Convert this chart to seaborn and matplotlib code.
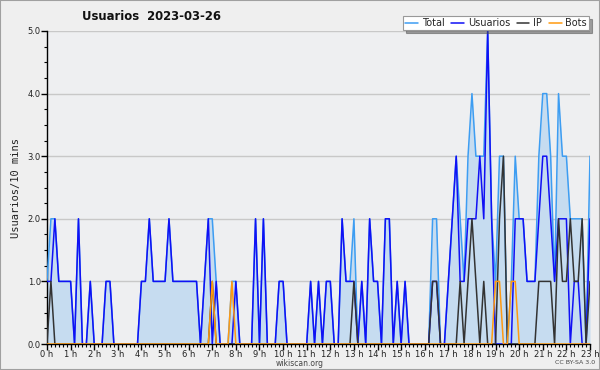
import numpy as np
import pandas as pd
import matplotlib
matplotlib.use("Agg")
import matplotlib.pyplot as plt
import seaborn as sns
from matplotlib.ticker import MultipleLocator, FixedLocator, FixedFormatter
from matplotlib.patches import Rectangle
from matplotlib.lines import Line2D

title = "Usuarios  2023-03-26"
ylabel = "Usuarios/10 mins"
hour_labels = [f"{h} h" for h in range(24)]
series_names = ["Total", "Usuarios", "IP", "Bots"]

# values per 10-minute slot, one row per hour (last row = 23:00)
total = [
    1, 2, 2, 1, 1, 1,
    1, 0, 2, 0, 0, 1,
    0, 0, 0, 1, 1, 0,
    0, 0, 0, 0, 0, 0,
    1, 1, 2, 1, 1, 1,
    1, 2, 1, 1, 1, 1,
    1, 1, 1, 0, 1, 2,
    2, 1, 0, 0, 0, 1,
    1, 0, 0, 0, 0, 2,
    0, 2, 0, 0, 0, 1,
    1, 0, 0, 0, 0, 0,
    0, 1, 0, 1, 0, 1,
    1, 0, 0, 2, 1, 1,
    2, 0, 1, 0, 2, 1,
    1, 0, 2, 2, 0, 1,
    0, 1, 0, 0, 0, 0,
    0, 0, 2, 2, 0, 0,
    1, 2, 3, 2, 1, 3,
    4, 3, 3, 3, 5, 2,
    1, 3, 3, 0, 1, 3,
    2, 2, 1, 1, 1, 3,
    4, 4, 3, 1, 4, 3,
    3, 2, 2, 2, 2, 0,
    3,
]
usuarios = [
    1, 1, 2, 1, 1, 1,
    1, 0, 2, 0, 0, 1,
    0, 0, 0, 1, 1, 0,
    0, 0, 0, 0, 0, 0,
    1, 1, 2, 1, 1, 1,
    1, 2, 1, 1, 1, 1,
    1, 1, 1, 0, 1, 2,
    0, 1, 0, 0, 0, 0,
    1, 0, 0, 0, 0, 2,
    0, 2, 0, 0, 0, 1,
    1, 0, 0, 0, 0, 0,
    0, 1, 0, 1, 0, 1,
    1, 0, 0, 2, 1, 1,
    1, 0, 1, 0, 2, 1,
    1, 0, 2, 2, 0, 1,
    0, 1, 0, 0, 0, 0,
    0, 0, 1, 1, 0, 0,
    1, 2, 3, 1, 1, 2,
    2, 2, 3, 2, 5, 2,
    0, 0, 0, 0, 0, 2,
    2, 2, 1, 1, 1, 2,
    3, 3, 2, 1, 2, 2,
    2, 0, 1, 1, 0, 0,
    2,
]
ip = [
    0, 1, 0, 0, 0, 0,
    0, 0, 0, 0, 0, 0,
    0, 0, 0, 0, 0, 0,
    0, 0, 0, 0, 0, 0,
    0, 0, 0, 0, 0, 0,
    0, 0, 0, 0, 0, 0,
    0, 0, 0, 0, 0, 0,
    1, 0, 0, 0, 0, 0,
    0, 0, 0, 0, 0, 0,
    0, 0, 0, 0, 0, 0,
    0, 0, 0, 0, 0, 0,
    0, 0, 0, 0, 0, 0,
    0, 0, 0, 0, 0, 0,
    1, 0, 0, 0, 0, 0,
    0, 0, 0, 0, 0, 0,
    0, 0, 0, 0, 0, 0,
    0, 0, 1, 1, 0, 0,
    0, 0, 0, 1, 0, 1,
    2, 1, 0, 1, 0, 0,
    0, 2, 3, 0, 0, 0,
    0, 0, 0, 0, 0, 1,
    1, 1, 1, 0, 2, 1,
    1, 2, 1, 1, 2, 0,
    1,
]
bots = [
    0, 0, 0, 0, 0, 0,
    0, 0, 0, 0, 0, 0,
    0, 0, 0, 0, 0, 0,
    0, 0, 0, 0, 0, 0,
    0, 0, 0, 0, 0, 0,
    0, 0, 0, 0, 0, 0,
    0, 0, 0, 0, 0, 0,
    1, 0, 0, 0, 0, 1,
    0, 0, 0, 0, 0, 0,
    0, 0, 0, 0, 0, 0,
    0, 0, 0, 0, 0, 0,
    0, 0, 0, 0, 0, 0,
    0, 0, 0, 0, 0, 0,
    0, 0, 0, 0, 0, 0,
    0, 0, 0, 0, 0, 0,
    0, 0, 0, 0, 0, 0,
    0, 0, 0, 0, 0, 0,
    0, 0, 0, 0, 0, 0,
    0, 0, 0, 0, 0, 0,
    1, 1, 0, 0, 1, 1,
    0, 0, 0, 0, 0, 0,
    0, 0, 0, 0, 0, 0,
    0, 0, 0, 0, 0, 0,
    0,
]

colors = {"Total": "#3d9df2", "Usuarios": "#1010f5", "IP": "#333333", "Bots": "#ff9a10"}
fill_color = "#c6dcf0"

n = len(total)
df = pd.DataFrame({
    "hora": np.arange(n) / 6.0,
    "Total": total,
    "Usuarios": usuarios,
    "IP": ip,
    "Bots": bots,
})

sns.set_theme(style="white")
plt.rcParams["font.family"] = ["DejaVu Sans"]

W, H = 600, 370
fig = plt.figure(figsize=(6, 3.7), dpi=100, facecolor="#efefef")
ax = fig.add_axes([47 / W, 26 / H, 543 / W, 313 / H])
ax.set_facecolor("#eeeff1")

ax.fill_between(df["hora"], df["Total"], 0, color=fill_color, lw=0, zorder=1)
for name in series_names:
    sns.lineplot(data=df, x="hora", y=name, ax=ax, color=colors[name],
                 lw=1.1, zorder=3, legend=False)

ax.set_xlim(0, 23)
ax.set_ylim(0, 5)

ax.xaxis.set_major_locator(FixedLocator(range(24)))
ax.xaxis.set_major_formatter(FixedFormatter(hour_labels))
ax.xaxis.set_minor_locator(MultipleLocator(1 / 6))
ax.yaxis.set_major_locator(MultipleLocator(1))
ax.yaxis.set_minor_locator(MultipleLocator(0.25))
ax.yaxis.set_major_formatter(matplotlib.ticker.FormatStrFormatter("%.1f"))

ax.tick_params(axis="both", which="major", direction="out", length=4, width=1,
               color="black", labelsize=6, labelcolor="#222222", pad=0.5)
ax.tick_params(axis="both", which="minor", direction="out", length=2, width=0.8,
               color="black")
ax.tick_params(axis="x", which="both", bottom=True)
ax.tick_params(axis="y", which="both", left=True)

ax.yaxis.grid(True, which="major", color="#c8c8c8", lw=1)
ax.set_axisbelow(True)
for s in ["top", "right"]:
    ax.spines[s].set_visible(False)
for s in ["left", "bottom"]:
    ax.spines[s].set_color("black")
    ax.spines[s].set_linewidth(1)

ax.set_xlabel("")
ax.set_ylabel(ylabel, family="DejaVu Sans Mono", fontsize=7.5, labelpad=5, color="#222222")

fig.text(151 / W, 1 - 17 / H, title, ha="center", va="center",
         fontsize=8.4, fontweight="bold", color="#111111")

handles = [Line2D([0], [0], color=colors[nm], lw=1.1) for nm in series_names]
leg = fig.legend(handles, series_names, loc="upper right", ncol=4,
                 bbox_to_anchor=(589 / W, 1 - 16 / H), bbox_transform=fig.transFigure,
                 frameon=True, fancybox=False, shadow=True, fontsize=7,
                 handlelength=1.3, handletextpad=0.4, columnspacing=0.7,
                 borderpad=0.2, borderaxespad=0)
leg.get_frame().set_edgecolor("#999999")
leg.get_frame().set_linewidth(0.8)

fig.text(300 / W, 1 - 363 / H, "wikiscan.org", ha="center", va="center",
         fontsize=5.5, color="#444444")
fig.text(575 / W, 1 - 363 / H, "CC BY-SA 3.0", ha="center", va="center",
         fontsize=4.5, color="#444444")

fig.patches.append(Rectangle((0, 0), 1, 1, transform=fig.transFigure, fill=False,
                             edgecolor="#a0a0a0", lw=1.5))

fig.savefig("out.png", dpi=100, facecolor=fig.get_facecolor())
